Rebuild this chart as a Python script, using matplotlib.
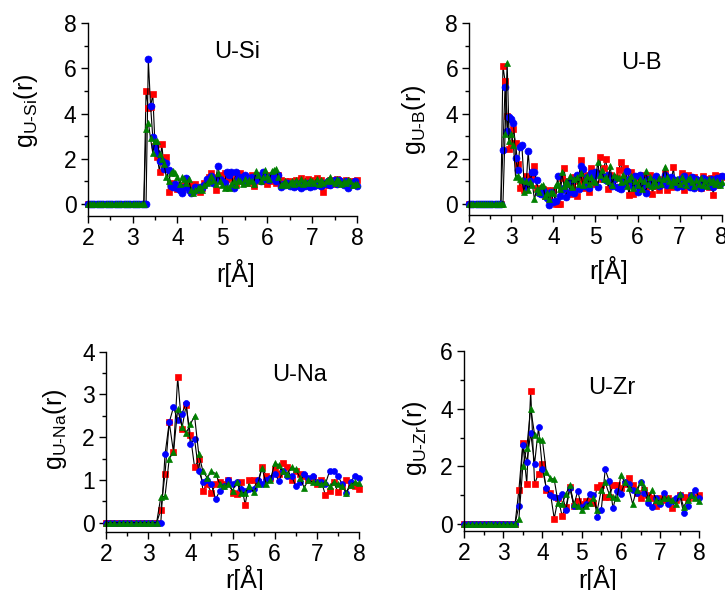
import numpy as np
import matplotlib
matplotlib.use("Agg")
import matplotlib.pyplot as plt
from matplotlib.ticker import MultipleLocator

plt.rcParams["font.family"] = ["Liberation Sans", "DejaVu Sans"]
plt.rcParams["mathtext.fontset"] = "custom"
plt.rcParams["mathtext.rm"] = "Liberation Sans"
plt.rcParams["mathtext.it"] = "Liberation Sans"

# ---------------- radial grids ----------------
r_fine = np.round(np.arange(2.0, 8.0001, 0.05), 2)    # U-Si, U-B
r_coarse = np.round(np.arange(2.0, 8.0001, 0.1), 2)   # U-Na, U-Zr

# ---------------- U-Si ----------------
usi_red = [
    0, 0, 0, 0, 0, 0, 0, 0, 0, 0, 0, 0, 0, 0, 0, 0, 0, 0, 0, 0,
    0, 0, 0, 0, 0, 0, 5.0, 4.25, 4.3, 4.85, 2.55, 2.1, 1.4, 2.65, 1.6, 2.1, 0.55, 0.75, 0.95, 0.8,
    0.65, 0.7, 0.6, 0.85, 0.75, 0.85, 0.6, 0.8, 0.9, 0.75, 0.55, 0.7, 0.95, 1.0, 1.2, 1.35, 1.1, 0.6, 1.2, 1.3,
    1.0, 1.35, 1.1, 1.2, 1.35, 1.05, 0.9, 1.1, 1.35, 1.0, 1.2, 0.95, 1.1, 1.3, 0.8, 1.05, 1.3, 1.15, 1.0, 1.2,
    0.9, 1.3, 1.0, 1.15, 0.95, 1.3, 1.05, 0.85, 1.0, 0.9, 1.0, 0.85, 0.95, 1.05, 0.9, 1.15, 0.8, 1.0, 1.1, 0.9,
    1.05, 0.85, 1.15, 0.95, 1.05, 0.55, 0.95, 0.85, 1.05, 1.0, 0.9, 1.1, 0.95, 1.0, 0.9, 1.05, 0.95, 1.0, 0.85, 1.0,
    1.05,
]
usi_blue = [
    0, 0, 0, 0, 0, 0, 0, 0, 0, 0, 0, 0, 0, 0, 0, 0, 0, 0, 0, 0,
    0, 0, 0, 0, 0, 0, 0, 6.4, 4.35, 2.95, 2.5, 2.25, 1.9, 1.9, 1.55, 1.8, 1.5, 0.8, 0.75, 0.9,
    0.7, 0.6, 0.5, 0.75, 1.15, 0.6, 0.5, 0.55, 0.75, 0.65, 0.75, 0.7, 0.85, 1.1, 1.0, 1.25, 0.95, 1.05, 1.7, 1.1,
    1.0, 0.95, 1.4, 1.3, 1.4, 0.7, 1.4, 1.1, 1.2, 1.0, 1.3, 1.05, 1.15, 1.2, 1.0, 1.1, 1.25, 1.0, 1.4, 1.1,
    1.2, 1.05, 1.3, 1.1, 1.0, 1.3, 0.75, 0.9, 0.85, 0.95, 0.8, 0.85, 0.75, 0.95, 0.8, 0.7, 0.9, 0.8, 0.95, 0.75,
    0.9, 0.8, 0.95, 0.85, 0.8, 0.95, 0.9, 1.0, 0.85, 0.95, 1.05, 0.9, 1.05, 0.95, 0.85, 1.0, 0.7, 0.95, 0.9, 1.0,
    0.8,
]
usi_green = [
    0, 0, 0, 0, 0, 0, 0, 0, 0, 0, 0, 0, 0, 0, 0, 0, 0, 0, 0, 0,
    0, 0, 0, 0, 0, 0, 3.3, 3.6, 2.9, 2.25, 2.8, 2.8, 2.2, 2.0, 1.75, 1.2, 1.0, 1.35, 1.45, 1.35,
    1.2, 0.9, 1.2, 1.1, 0.95, 1.1, 0.6, 0.5, 0.6, 0.7, 0.75, 0.6, 0.85, 0.95, 1.0, 1.25, 1.05, 0.9, 1.35, 1.0,
    0.85, 0.7, 0.75, 0.7, 0.9, 1.0, 0.85, 1.05, 1.0, 0.9, 1.1, 0.95, 1.05, 1.0, 0.9, 1.45, 1.3, 1.0, 1.2, 1.5,
    1.25, 1.1, 1.45, 1.5, 1.55, 1.2, 0.85, 0.9, 1.0, 0.85, 0.95, 1.0, 0.9, 1.05, 0.95, 1.1, 0.9, 1.0, 0.95, 1.05,
    1.0, 0.95, 1.1, 0.9, 1.05, 0.95, 1.0, 1.05, 1.2, 1.0, 0.95, 1.1, 1.0, 0.9, 1.0, 0.95, 1.05, 1.0, 0.85, 0.9,
    0.9,
]

# ---------------- U-B ----------------
ub_red = [
    0, 0, 0, 0, 0, 0, 0, 0, 0, 0, 0, 0, 0, 0, 0, 0, 6.1, 5.45, 3.9, 2.45,
    2.7, 3.3, 2.7, 1.75, 0.7, 1.0, 0.6, 1.25, 1.1, 0.9, 1.15, 1.7, 0.7, 0.6, 0.5, 0.65, 0.35, 0.6, 0.2, 0.55,
    0.6, 0.0, 0.0, 0.0, 1.15, 1.6, 0.9, 1.0, 0.45, 0.8, 1.2, 0.35, 1.0, 1.95, 1.2, 0.7, 1.3, 0.55, 1.6, 1.0,
    0.9, 1.35, 2.1, 1.1, 1.6, 2.0, 0.65, 1.3, 1.05, 1.1, 1.2, 1.5, 1.85, 1.1, 1.6, 0.9, 0.4, 1.4, 0.45, 1.25,
    1.0, 0.7, 1.3, 0.9, 0.6, 1.15, 1.3, 0.45, 0.8, 1.1, 0.6, 0.95, 1.1, 1.35, 0.6, 1.05, 0.75, 1.65, 0.8, 1.0,
    0.85, 1.35, 0.6, 1.1, 1.3, 0.95, 0.75, 1.2, 0.9, 1.05, 0.7, 1.25, 0.9, 1.1, 0.75, 1.15, 0.4, 1.3, 0.85, 1.25,
    1.2,
]
ub_blue = [
    0, 0, 0, 0, 0, 0, 0, 0, 0, 0, 0, 0, 0, 0, 0, 0, 2.4, 5.2, 3.25, 3.85,
    3.75, 3.6, 2.05, 1.5, 2.5, 2.6, 1.0, 0.75, 2.35, 1.0, 1.4, 1.4, 1.05, 0.5, 0.45, 0.6, 0.5, 0.25, -0.05, 0.55,
    0.1, 0.15, 1.25, 0.35, 0.6, 0.7, 0.3, 0.95, 0.55, 1.05, 0.5, 1.3, 0.65, 1.7, 1.55, 0.8, 1.2, 0.7, 1.35, 1.15,
    1.4, 0.75, 1.3, 1.25, 1.1, 1.05, 1.3, 1.15, 0.8, 1.1, 0.75, 0.7, 0.65, 1.0, 0.9, 1.45, 1.1, 1.0, 0.8, 1.25,
    0.55, 1.3, 0.8, 1.05, 0.5, 1.1, 0.85, 1.05, 0.9, 1.25, 0.8, 1.0, 0.9, 1.3, 0.85, 1.0, 1.2, 0.9, 1.05, 0.75,
    1.1, 0.8, 1.25, 0.9, 1.0, 0.75, 1.2, 0.7, 1.1, 0.95, 0.7, 1.15, 0.9, 1.05, 0.8, 1.1, 0.75, 1.0, 1.15, 0.9,
    1.25,
]
ub_green = [
    0, 0, 0, 0, 0, 0, 0, 0, 0, 0, 0, 0, 0, 0, 0, 0, 0, 3.1, 6.25, 2.8,
    3.1, 2.6, 1.2, 1.25, 1.1, 1.05, 0.55, 1.0, 0.6, 0.95, 0.85, 0.2, 0.65, 0.55, 0.8, 0.85, 0.35, 0.5, 0.2, 0.55,
    0.5, 0.85, 0.9, 0.65, 1.4, 0.8, 1.0, 0.9, 1.25, 0.75, 1.1, 1.2, 0.9, 1.35, 0.85, 1.05, 1.25, 0.9, 1.2, 1.0,
    0.95, 1.85, 1.3, 1.5, 1.1, 1.2, 1.0, 1.7, 0.85, 1.3, 1.2, 1.15, 0.95, 1.3, 1.0, 0.8, 1.1, 1.25, 0.7, 1.0,
    0.85, 1.1, 0.65, 1.0, 1.45, 0.9, 1.2, 0.8, 1.0, 0.85, 1.15, 0.9, 1.1, 1.65, 1.2, 1.0, 0.85, 1.05, 0.95, 1.1,
    0.9, 1.2, 1.0, 0.85, 1.1, 1.15, 0.95, 0.8, 1.05, 0.9, 1.15, 0.85, 1.0, 0.8, 1.1, 0.95, 1.05, 0.9, 1.0, 0.85,
    0.95,
]

# ---------------- U-Na ----------------
una_red = [
    0, 0, 0, 0, 0, 0, 0, 0, 0, 0,
    0, 0, 0, 0.3, 1.15, 2.35, 1.65, 3.4, 2.2, 2.75,
    2.05, 1.3, 1.5, 0.75, 0.9, 0.7, 0.9, 0.95, 0.9, 1.0,
    0.7, 0.67, 0.95, 0.42, 1.0, 1.0, 0.95, 1.3, 1.1, 1.05,
    1.25, 1.15, 1.4, 1.3, 1.0, 1.2, 1.15, 1.1, 1.0, 1.05,
    0.9, 1.0, 0.65, 0.75, 0.95, 0.72, 0.85, 1.0, 0.88, 0.85,
    0.78,
]
una_blue = [
    0, 0, 0, 0, 0, 0, 0, 0, 0, 0,
    0, 0, 0, 0.0, 1.6, 2.35, 2.7, 2.4, 2.55, 2.8,
    1.85, 1.95, 1.2, 0.95, 1.0, 0.9, 0.55, 0.75, 0.85, 1.0,
    0.9, 0.95, 0.8, 0.75, 0.8, 0.8, 1.0, 0.9, 1.0, 1.05,
    1.15, 0.98, 1.2, 1.1, 1.1, 0.85, 0.95, 1.15, 1.05, 1.1,
    0.95, 0.95, 0.9, 1.2, 1.2, 1.1, 0.9, 0.7, 0.95, 1.1,
    1.05,
]
una_green = [
    0, 0, 0, 0, 0, 0, 0, 0, 0, 0,
    0, 0, 0, 0.6, 0.62, 1.5, 1.65, 2.65, 2.25, 2.1,
    2.3, 2.5, 1.6, 1.2, 1.05, 1.2, 1.15, 0.9, 0.85, 0.9,
    0.75, 0.95, 0.7, 0.7, 0.85, 0.72, 0.9, 1.28, 0.9, 1.0,
    1.4, 1.35, 1.2, 1.15, 1.3, 1.25, 1.05, 0.82, 1.0, 0.95,
    0.95, 0.9, 0.95, 0.85, 0.95, 0.9, 0.85, 0.7, 0.88, 0.95,
    0.92,
]

# ---------------- U-Zr ----------------
uzr_red = [
    0, 0, 0, 0, 0, 0, 0, 0, 0, 0,
    0, 0, 0, 0, 1.2, 2.8, 1.4, 4.6, 1.4, 1.75,
    2.1, 1.2, 1.1, 0.2, 0.9, 0.3, 0.6, 1.3, 0.65, 0.8,
    0.7, 0.8, 0.8, 0.75, 1.3, 1.35, 0.95, 0.95, 1.35, 1.35,
    1.25, 1.4, 1.6, 1.35, 1.1, 0.9, 1.2, 1.0, 0.9, 0.65,
    0.9, 0.85, 0.9, 0.55, 0.85, 1.0, 0.95, 0.9, 1.0, 0.95,
    1.0,
]
uzr_blue = [
    0, 0, 0, 0, 0, 0, 0, 0, 0, 0,
    0, 0, 0, 0, 0.65, 2.75, 2.15, 3.15, 2.1, 3.35,
    1.9, 1.25, 1.0, 0.95, 0.9, 1.05, 0.5, 1.25, 0.65, 1.15,
    0.6, 0.7, 1.05, 1.0, 0.25, 0.5, 1.9, 1.5, 0.55, 1.15,
    1.05, 1.45, 1.4, 1.2, 1.1, 1.45, 1.1, 0.75, 0.6, 0.9,
    0.7, 1.1, 0.7, 0.8, 0.9, 1.0, 0.4, 0.65, 1.0, 1.2,
    0.9,
]
uzr_green = [
    0, 0, 0, 0, 0, 0, 0, 0, 0, 0,
    0, 0, 0, 0, 0.2, 2.0, 2.65, 4.0, 3.1, 2.95,
    2.9, 1.8, 1.6, 1.55, 0.75, 0.7, 1.05, 1.35, 0.7, 0.65,
    0.5, 0.65, 0.75, 0.9, 0.5, 1.2, 1.45, 1.05, 0.95, 0.9,
    1.7, 1.45, 1.25, 0.7, 1.2, 1.45, 1.3, 0.9, 1.2, 0.85,
    0.8, 0.9, 0.9, 0.85, 0.7, 1.05, 0.6, 0.85, 1.0, 0.9,
    0.8,
]

RED, BLUE, GREEN = "#ff0000", "#0000ff", "#008000"

W, H = 725, 590

panels = [
    # rect, r, series, pair name, ylabel, ylim, y major/minor step,
    # pair-name centre, ylabel centre, xlabel centre (pixels), marker size
    dict(rect=[0.121, 0.634, 0.3714, 0.3266], r=r_fine,
         series=(usi_red, usi_blue, usi_green), name="U-Si",
         ylab=r"$\mathrm{g_{U\text{-}Si}(r)}$", ylim=(-0.53, 8), ymaj=2, ymin=1,
         name_xy=(237, 52), ylab_xy=(26, 111), xlab_xy=(236, 273), ms=5.0),
    dict(rect=[0.6473, 0.6356, 0.3481, 0.3249], r=r_fine,
         series=(ub_red, ub_blue, ub_green), name="U-B",
         ylab=r"$\mathrm{g_{U\text{-}B}(r)}$", ylim=(-0.49, 8), ymaj=2, ymin=1,
         name_xy=(641, 63), ylab_xy=(414, 120), xlab_xy=(609, 270), ms=5.0),
    dict(rect=[0.1462, 0.0988, 0.3490, 0.3051], r=r_coarse,
         series=(una_red, una_blue, una_green), name="U-Na",
         ylab=r"$\mathrm{g_{U\text{-}Na}(r)}$", ylim=(-0.21, 4), ymaj=1, ymin=0.5,
         name_xy=(300, 375), ylab_xy=(55, 429), xlab_xy=(245, 579), ms=4.3),
    dict(rect=[0.6400, 0.1000, 0.3246, 0.3056], r=r_coarse,
         series=(uzr_red, uzr_blue, uzr_green), name="U-Zr",
         ylab=r"$\mathrm{g_{U\text{-}Zr}(r)}$", ylim=(-0.23, 6), ymaj=2, ymin=1,
         name_xy=(612, 388), ylab_xy=(415, 438), xlab_xy=(598, 579), ms=4.3),
]

fig = plt.figure(figsize=(W / 100, H / 100), dpi=100)

for p in panels:
    ax = fig.add_axes(p["rect"])
    for vals, col, mk in zip(p["series"], (RED, BLUE, GREEN), ("s", "o", "^")):
        ax.plot(p["r"], vals, color="black", lw=0.8, marker=mk, ms=p["ms"],
                mfc=col, mec=col, mew=0.5, clip_on=False)
    ylim = p["ylim"]
    ax.set_xlim(2, 8)
    ax.set_ylim(*ylim)
    ax.xaxis.set_major_locator(MultipleLocator(1))
    ax.xaxis.set_minor_locator(MultipleLocator(0.5))
    ax.yaxis.set_major_locator(MultipleLocator(p["ymaj"]))
    ax.yaxis.set_minor_locator(MultipleLocator(p["ymin"]))
    ax.set_yticks(np.arange(0, ylim[1] + 0.01, p["ymaj"]))
    for s in ("top", "right"):
        ax.spines[s].set_visible(False)
    for s in ("left", "bottom"):
        ax.spines[s].set_linewidth(1.0)
    ax.tick_params(which="major", direction="out", length=5, width=1.0,
                   labelsize=16.5, pad=3)
    ax.tick_params(which="minor", direction="out", length=3, width=1.0)

    nx, ny = p["name_xy"]
    fig.text(nx / W, 1 - ny / H, p["name"], fontsize=17, ha="center", va="center")
    lx, ly = p["ylab_xy"]
    fig.text(lx / W, 1 - ly / H, p["ylab"], fontsize=18, rotation=90,
             ha="center", va="center")
    xx, xy = p["xlab_xy"]
    fig.text(xx / W, 1 - xy / H, "r[Å]", fontsize=18, ha="center", va="center")

fig.savefig("out.png", dpi=100)
